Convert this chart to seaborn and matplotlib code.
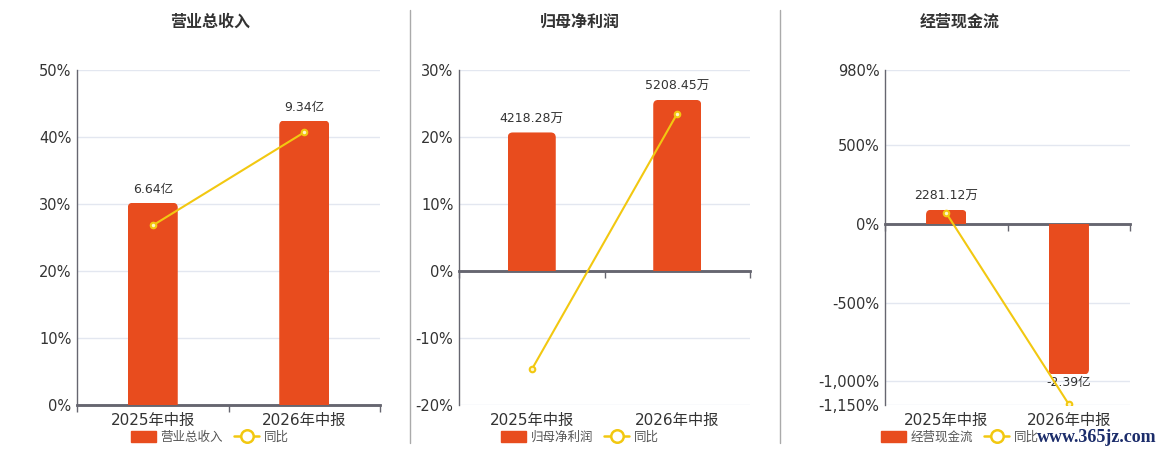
import numpy as np
import pandas as pd
import seaborn as sns
import matplotlib.pyplot as plt
from matplotlib.patches import Patch, FancyBboxPatch
from matplotlib.lines import Line2D
from matplotlib.ticker import FuncFormatter

# Data
periods = ['2025年中报', '2026年中报']

revenue = [6.64, 9.34]            # 亿
revenue_labels = ['6.64亿', '9.34亿']
revenue_yoy = [26.8, 40.7]        # %

net_profit = [4218.28, 5208.45]   # 万
net_profit_labels = ['4218.28万', '5208.45万']
net_profit_yoy = [-14.7, 23.5]

cash_flow = [2281.12, -23900.0]   # 万
cash_flow_labels = ['2281.12万', '-2.39亿']
cash_flow_yoy = [70.0, -1145.0]

titles = ['营业总收入', '归母净利润', '经营现金流']

BAR_COLOR = '#E84C1E'
LINE_COLOR = '#F2C811'
GRID_COLOR = '#E3E7F0'
AXIS_COLOR = '#666670'
TEXT_COLOR = '#333333'
FONTS = ['DejaVu Sans', 'Noto Sans CJK SC']

sns.set_theme(style='white')
plt.rcParams['font.family'] = FONTS

fig = plt.figure(figsize=(11.6, 4.5), dpi=100)

W, H = 1160, 450
panels = [
    dict(bars=revenue, labels=revenue_labels, yoy=revenue_yoy, title=titles[0],
         x0=77, x1=380, pticks=[0, 10, 20, 30, 40, 50], plim=(0, 50),
         blim=(0, 11.0), centre=210),
    dict(bars=net_profit, labels=net_profit_labels, yoy=net_profit_yoy, title=titles[1],
         x0=459, x1=750, pticks=[-20, -10, 0, 10, 20, 30], plim=(-20, 30),
         blim=(-4080, 6120), centre=580),
    dict(bars=cash_flow, labels=cash_flow_labels, yoy=cash_flow_yoy, title=titles[2],
         x0=885, x1=1130, pticks=[-1150, -1000, -500, 0, 500, 980], plim=(-1150, 980),
         blim=(-28760, 24508), centre=960),
]

top_px, bottom_px = 70, 405
RADIUS_PX = 5


def round_bars(ax_bar):
    # swap the plain rectangles for ones with rounded far-end corners
    inv = ax_bar.transData.inverted()
    x0d, y0d = inv.transform((0, 0))
    x1d, y1d = inv.transform((RADIUS_PX, RADIUS_PX))
    rx, ry = abs(x1d - x0d), abs(y1d - y0d)
    for rect in list(ax_bar.patches):
        x, w = rect.get_x(), rect.get_width()
        y, h = rect.get_y(), rect.get_height()
        if h >= 0:
            by, bh = y - ry, h + ry
        else:
            by, bh = y + h, -h + ry
        fb = FancyBboxPatch((x, by), w, bh,
                            boxstyle=f'round,pad=0,rounding_size={rx}',
                            mutation_aspect=ry / rx,
                            facecolor=BAR_COLOR, edgecolor='none', zorder=2)
        ax_bar.add_patch(fb)
        fb.set_clip_path(rect)
        rect.set_visible(False)
        ax_bar.add_artist(rect)


for p in panels:
    rect = [p['x0'] / W, 1 - bottom_px / H, (p['x1'] - p['x0']) / W, (bottom_px - top_px) / H]
    ax = fig.add_axes(rect)
    ax_bar = ax.twinx()
    ax_line = ax.twinx()

    df = pd.DataFrame({'period': periods, 'value': p['bars'], 'yoy': p['yoy']})

    # percent axis with grid
    ax.set_ylim(*p['plim'])
    ax.set_yticks(p['pticks'])
    ax.yaxis.set_major_formatter(FuncFormatter(lambda v, _: f'{v:,.0f}%'))
    ax.grid(axis='y', color=GRID_COLOR, linewidth=1)
    ax.set_axisbelow(True)
    ax.tick_params(axis='y', labelsize=10.5, labelcolor=TEXT_COLOR, length=0, pad=4)
    ax.tick_params(axis='x', labelsize=11, labelcolor=TEXT_COLOR, length=0, pad=6)
    for s in ['top', 'right', 'bottom']:
        ax.spines[s].set_visible(False)
    ax.spines['left'].set_color(AXIS_COLOR)
    ax.spines['left'].set_linewidth(1)

    # bars on their own hidden scale
    sns.barplot(data=df, x='period', y='value', ax=ax_bar, color=BAR_COLOR,
                saturation=1, width=0.33, linewidth=0, zorder=2)
    ax_bar.set_ylim(*p['blim'])
    ax_bar.set_xlim(-0.5, 1.5)
    ax_bar.set_yticks([])
    ax_bar.set_ylabel('')
    ax_bar.set_xlabel('')
    for s in ax_bar.spines.values():
        s.set_visible(False)
    round_bars(ax_bar)
    for i, (v, lab) in enumerate(zip(p['bars'], p['labels'])):
        if v >= 0:
            ax_bar.annotate(lab, (i, v), xytext=(0, 5), textcoords='offset points',
                            ha='center', va='bottom', fontsize=9, color=TEXT_COLOR)
        else:
            ax_bar.annotate(lab, (i, v), xytext=(0, -1), textcoords='offset points',
                            ha='center', va='top', fontsize=9, color=TEXT_COLOR)

    # zero axis line with boundary ticks
    zero_frac = -p['plim'][0] / (p['plim'][1] - p['plim'][0])
    sec = ax_bar.secondary_xaxis(zero_frac)
    sec.set_xticks([-0.5, 0.5, 1.5])
    sec.set_xticklabels([])
    sec.xaxis.set_ticks_position('bottom')
    sec.tick_params(direction='out', length=5, color=AXIS_COLOR, width=1)
    for s in ['top', 'bottom']:
        sec.spines[s].set_visible(True)
        sec.spines[s].set_color(AXIS_COLOR)
        sec.spines[s].set_linewidth(1.8)
    for s in ['left', 'right']:
        sec.spines[s].set_visible(False)

    # yoy line on the percent scale
    sns.pointplot(data=df, x='period', y='yoy', ax=ax_line, color=LINE_COLOR,
                  markers='o', linestyles='-', markersize=4, linewidth=1.5,
                  markerfacecolor='#FFF6C8', markeredgecolor=LINE_COLOR,
                  markeredgewidth=1.5, errorbar=None)
    ax_line.set_ylim(*p['plim'])
    ax_line.set_xlim(-0.5, 1.5)
    ax_line.set_yticks([])
    ax_line.set_ylabel('')
    ax_line.set_xlabel('')
    for s in ax_line.spines.values():
        s.set_visible(False)
    ax.set_xlabel('')

    fig.text(p['centre'] / W, 1 - 22 / H, p['title'], ha='center', va='center',
             fontsize=11.5, fontweight='bold', color=TEXT_COLOR,
             family=['Noto Sans CJK SC', 'DejaVu Sans'])

    handles = [
        Patch(facecolor=BAR_COLOR, edgecolor=BAR_COLOR, label=p['title']),
        Line2D([0], [0], color=LINE_COLOR, lw=1.8, marker='o', markersize=9,
               markerfacecolor='white', markeredgecolor=LINE_COLOR,
               markeredgewidth=1.8, label='同比'),
    ]
    fig.legend(handles=handles, loc='center', bbox_to_anchor=(p['centre'] / W, 1 - 437 / H),
               ncol=2, frameon=False, handlelength=2.0, handleheight=1.0,
               columnspacing=0.9, handletextpad=0.4, labelcolor='#555555',
               prop={'family': ['Noto Sans CJK SC', 'DejaVu Sans'], 'size': 9})

# panel separators
for xs in [410, 780]:
    fig.add_artist(Line2D([xs / W, xs / W], [1 - 10 / H, 1 - 443 / H], color='#AAAAAA', lw=1))

# watermark
fig.text(1097 / W, 1 - 437 / H, 'www.365jz.com', ha='center', va='center',
         fontsize=13, fontweight='bold', color='#1C2D6B', family='Liberation Serif')

fig.savefig('out.png', dpi=100, facecolor='white')
